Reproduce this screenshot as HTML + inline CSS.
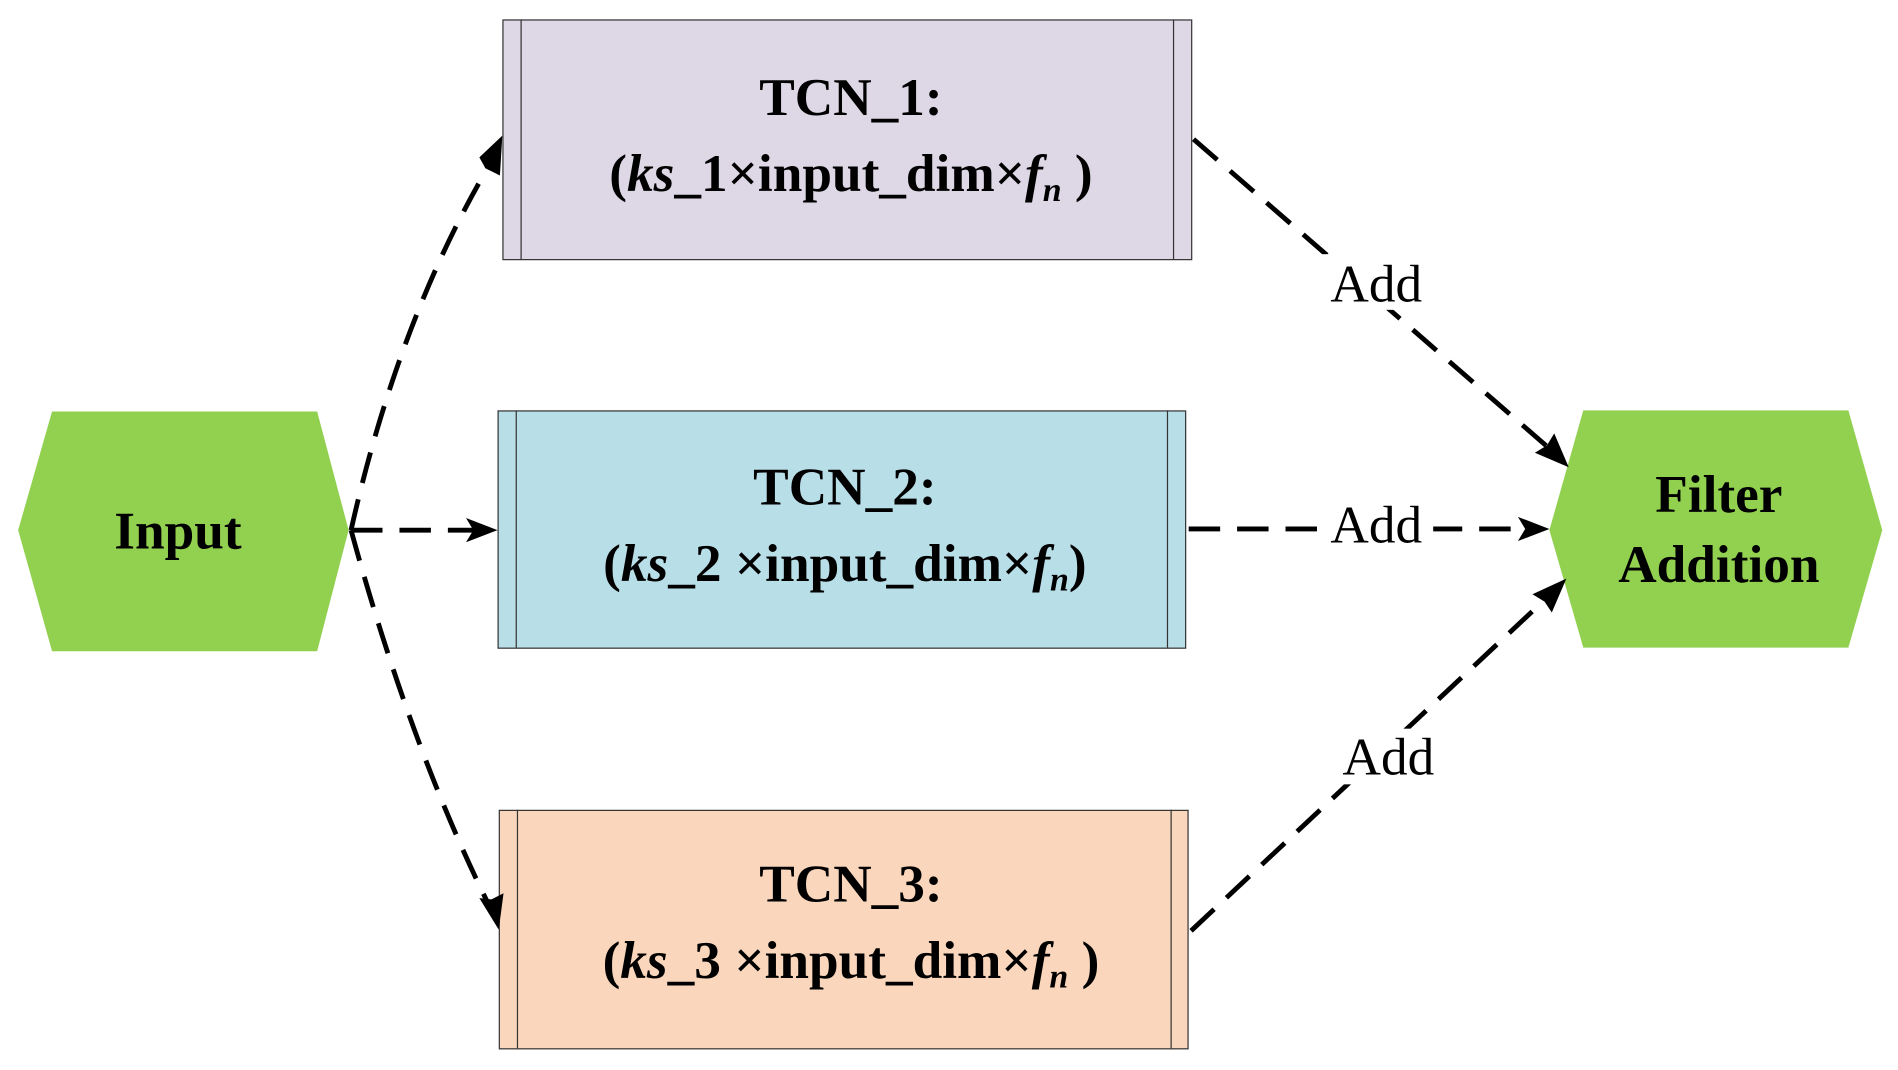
<!DOCTYPE html>
<html><head><meta charset="utf-8"><style>
html,body{margin:0;padding:0;background:#fff;width:1898px;height:1070px;overflow:hidden}
svg{display:block}
text{font-family:"Liberation Serif",serif}
</style></head><body>
<svg width="1898" height="1070" viewBox="0 0 1568 884" preserveAspectRatio="none" xmlns="http://www.w3.org/2000/svg">
<defs>
<marker id="a" viewBox="0 0 10 10" refX="9" refY="5" markerWidth="6" markerHeight="6" orient="auto" markerUnits="userSpaceOnUse" style="overflow:visible">
<path d="M0,0 L10,5 L0,10 L3,5 z" fill="#000" transform="scale(2.6) translate(-6,-5) translate(0,5) translate(0,-5)"/>
</marker>
</defs>
<polygon points="15,438 43,340 262,340 288,438 262,538 43,538" fill="#92d050"/>
<text x="147" y="453" font-size="44" font-weight="bold" text-anchor="middle">Input</text>
<polygon points="1280,438 1308,339 1527,339 1555,438 1527,535 1308,535" fill="#92d050"/>
<text x="1420" y="423" font-size="44" font-weight="bold" text-anchor="middle">Filter</text>
<text x="1420" y="481" font-size="44" font-weight="bold" text-anchor="middle">Addition</text>

<rect x="415.5" y="16.5" width="569" height="198" fill="#ddd7e6" stroke="#333" stroke-width="1"/>
<line x1="430.5" y1="16" x2="430.5" y2="214" stroke="#333"/>
<line x1="969.5" y1="16" x2="969.5" y2="214" stroke="#333"/>
<rect x="411.5" y="339.5" width="568" height="196" fill="#b8dee8" stroke="#333" stroke-width="1"/>
<line x1="426.5" y1="339" x2="426.5" y2="535" stroke="#333"/>
<line x1="964.5" y1="339" x2="964.5" y2="535" stroke="#333"/>
<rect x="412.5" y="669.5" width="569" height="197" fill="#fad7bc" stroke="#333" stroke-width="1"/>
<line x1="427.5" y1="669" x2="427.5" y2="866" stroke="#333"/>
<line x1="967.5" y1="669" x2="967.5" y2="866" stroke="#333"/>

<g font-size="44" font-weight="bold" text-anchor="middle">
<text x="703" y="95">TCN_1:</text>
<text x="703" y="158">(<tspan font-style="italic">ks</tspan>_1×input_dim×<tspan font-style="italic">f</tspan><tspan font-style="italic" font-size="28" dy="8">n</tspan><tspan dy="-8"> )</tspan></text>
<text x="698" y="417">TCN_2:</text>
<text x="698" y="480">(<tspan font-style="italic">ks</tspan>_2 ×input_dim×<tspan font-style="italic">f</tspan><tspan font-style="italic" font-size="28" dy="8">n</tspan><tspan dy="-8">)</tspan></text>
<text x="703" y="745">TCN_3:</text>
<text x="703" y="808">(<tspan font-style="italic">ks</tspan>_3 ×input_dim×<tspan font-style="italic">f</tspan><tspan font-style="italic" font-size="28" dy="8">n</tspan><tspan dy="-8"> )</tspan></text>
</g>

<g fill="none" stroke="#000" stroke-width="4" stroke-dasharray="26,14">
<path d="M290,438 Q330,260 408,130"/>
<path d="M290,438 L398,438"/>
<path d="M290,438 Q340,620 406,752"/>
<path d="M986,115 L1284,374"/>
<path d="M982,437 L1266,437"/>
<path d="M984,769 L1282,490"/>
</g>
<g fill="#000">
<polygon points="415,112 413,145 401,139 396,130"/>
<polygon points="411,438 385,448 391,438 385,428"/>
<polygon points="412,768 396,742 406,743 416,738"/>
<polygon points="1296,386 1268,374 1278,368 1284,358"/>
<polygon points="1280,437 1254,447 1260,437 1254,427"/>
<polygon points="1294,478 1282,506 1276,497 1266,491"/>
</g>
<g font-size="44" text-anchor="middle">
<rect x="1092" y="210" width="92" height="46" fill="#fff"/>
<text x="1137" y="249">Add</text>
<rect x="1092" y="410" width="92" height="46" fill="#fff"/>
<text x="1137" y="448">Add</text>
<rect x="1102" y="602" width="92" height="46" fill="#fff"/>
<text x="1147" y="640">Add</text>
</g>
</svg>
</body></html>
